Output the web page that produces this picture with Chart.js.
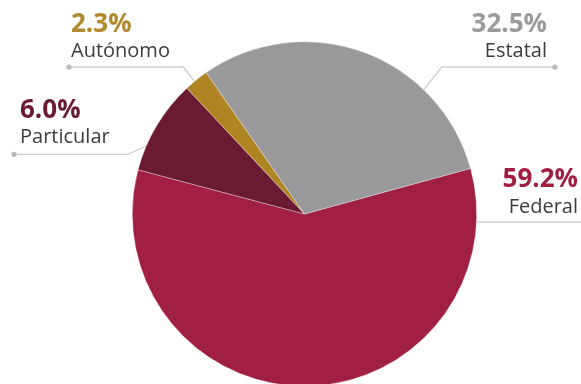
<!DOCTYPE html>
<html>
<head>
<meta charset="utf-8">
<script src="https://cdn.jsdelivr.net/npm/chart.js@4"></script>
<style>
  html, body { margin: 0; padding: 0; background: #fff; overflow: hidden; }
  #wrap { width: 581px; height: 384px; overflow: hidden; position: relative; }
  canvas { display: block; }
  .pre { font-family: 'Open Sans'; position: absolute; left: -9999px; }
</style>
</head>
<body>
<div id="wrap"><canvas id="c" width="581" height="400"></canvas></div>
<span class="pre">a</span><span class="pre" style="font-weight:700">a</span>
<script>
// ---- data (slice sizes as drawn in the picture, in %) ----
const categories = ['Federal', 'Particular', 'Autónomo', 'Estatal'];
const sliceValues = [58.4, 8.9, 2.3, 30.4];
const percentLabels = ['59.2%', '6.0%', '2.3%', '32.5%'];
const sliceColors = ['#A01F43', '#6A1A31', '#AF8523', '#99999B'];
const labelColors = ['#A01F43', '#6A1A31', '#B08A2C', '#9B9B9B'];

// ---- label layout (angle of leader end on the arc, elbow, dot, text anchor) ----
const labelLayout = [
  { angle: 2.66,   elbow: null,        dot: [590, 222],  text: [578, 186.7, 212.7], align: 'right' },
  { angle: 203.2,  elbow: [128, 154.3], dot: [14, 154.3], text: [20, 118, 142.7],   align: 'left' },
  { angle: 230.3,  elbow: [183.3, 67],  dot: [69, 67],    text: [71, 32, 57.3],     align: 'left' },
  { angle: -46.2,  elbow: [441.7, 67],  dot: [555, 67],   text: [547, 31.7, 57.3],  align: 'right' }
];

const labelPlugin = {
  id: 'pieLabels',
  afterDraw(chart) {
    const ctx = chart.ctx;
    const meta = chart.getDatasetMeta(0);
    meta.data.forEach((arc, i) => {
      const L = labelLayout[i];
      const a = L.angle * Math.PI / 180;
      const r = arc.outerRadius + 0.5;
      const ex = arc.x + r * Math.cos(a);
      const ey = arc.y + r * Math.sin(a);
      ctx.save();
      ctx.strokeStyle = '#CFCFD2';
      ctx.lineWidth = 1.3;
      ctx.beginPath();
      ctx.moveTo(ex, ey);
      if (L.elbow) {
        ctx.lineTo(L.elbow[0], L.elbow[1]);
        ctx.lineTo(L.dot[0], L.dot[1]);
      } else {
        ctx.lineTo(L.dot[0], ey);
      }
      ctx.stroke();
      ctx.fillStyle = '#B8B8BF';
      ctx.beginPath();
      ctx.arc(L.dot[0], L.elbow ? L.dot[1] : ey, 2.6, 0, Math.PI * 2);
      ctx.fill();
      ctx.textAlign = L.align;
      ctx.textBaseline = 'alphabetic';
      ctx.fillStyle = labelColors[i];
      ctx.font = 'bold 26px "Open Sans"';
      ctx.fillText(percentLabels[i], L.text[0], L.text[1]);
      ctx.fillStyle = '#3C3C3C';
      ctx.font = '20px "Open Sans"';
      ctx.fillText(categories[i], L.text[0], L.text[2]);
      ctx.restore();
    });
  }
};

function build() {
  new Chart(document.getElementById('c'), {
    type: 'pie',
    data: {
      labels: categories,
      datasets: [{
        data: sliceValues,
        backgroundColor: sliceColors,
        borderColor: 'rgba(255,255,255,0.55)',
        borderWidth: 0.6,
        hoverOffset: 0
      }]
    },
    options: {
      responsive: false,
      devicePixelRatio: 1,
      animation: false,
      rotation: 74.64,
      layout: { padding: { top: 41.5, bottom: 13.5, left: 28, right: 0 } },
      plugins: { legend: { display: false }, tooltip: { enabled: false } }
    },
    plugins: [labelPlugin]
  });
}
if (document.fonts && document.fonts.load) {
  Promise.all([
    document.fonts.load('bold 26px "Open Sans"'),
    document.fonts.load('20px "Open Sans"')
  ]).then(build, build);
} else { build(); }
</script>
</body>
</html>
